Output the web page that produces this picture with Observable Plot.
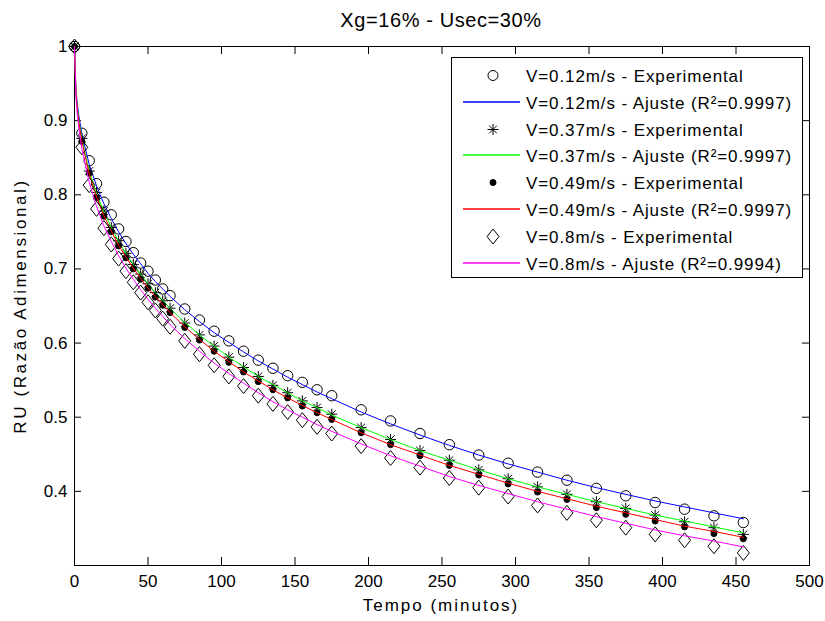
<!DOCTYPE html>
<html>
<head>
<meta charset="utf-8">
<script src="https://cdn.jsdelivr.net/npm/d3@7"></script>
<script src="https://cdn.jsdelivr.net/npm/@observablehq/plot@0.6"></script>
<style>
  html, body { margin: 0; padding: 0; background: #fff; }
  #wrap { position: relative; width: 825px; height: 621px; overflow: hidden; }
  #overlay { position: absolute; left: 0; top: 0; pointer-events: none; }
  svg text { font-family: "Liberation Sans", Arial, sans-serif; }
</style>
</head>
<body>
<div id="wrap"></div>
<script>
// ---------- data ----------
const time = [0,5,10,15,20,25,30,35,40,45,50,55,60,65,75,85,95,105,115,125,135,145,155,165,175,195,215,235,255,275,295,315,335,355,375,395,415,435,455];
const expV012 = [1.000,0.883,0.846,0.815,0.790,0.773,0.754,0.737,0.722,0.708,0.697,0.685,0.673,0.664,0.646,0.631,0.616,0.603,0.589,0.577,0.566,0.556,0.547,0.537,0.529,0.510,0.495,0.478,0.463,0.449,0.438,0.426,0.415,0.404,0.394,0.385,0.376,0.367,0.358];
const expV037 = [1.000,0.876,0.832,0.803,0.778,0.756,0.738,0.721,0.706,0.693,0.680,0.668,0.657,0.647,0.627,0.611,0.596,0.581,0.567,0.555,0.543,0.533,0.522,0.513,0.504,0.486,0.470,0.455,0.442,0.429,0.417,0.406,0.396,0.386,0.377,0.368,0.359,0.351,0.342];
const expV049 = [1.000,0.872,0.829,0.796,0.771,0.750,0.731,0.715,0.700,0.686,0.674,0.662,0.651,0.641,0.621,0.604,0.589,0.574,0.561,0.548,0.537,0.526,0.515,0.506,0.497,0.479,0.463,0.448,0.435,0.422,0.410,0.399,0.389,0.378,0.369,0.360,0.352,0.343,0.336];
const expV08  = [1.000,0.864,0.813,0.781,0.755,0.733,0.714,0.697,0.682,0.668,0.655,0.644,0.633,0.622,0.603,0.585,0.570,0.555,0.542,0.529,0.518,0.507,0.496,0.487,0.478,0.461,0.445,0.432,0.418,0.405,0.393,0.381,0.371,0.361,0.351,0.342,0.334,0.326,0.317];

const fitTime = [0,1,2,3,5,10,15,20,25,30,35,40,45,50,55,60,65,75,85,95,105,115,125,135,145,155,165,175,195,215,235,255,275,295,315,335,355,375,395,415,435,455];
const fitV012 = [1.000,0.942,0.921,0.906,0.882,0.841,0.812,0.788,0.768,0.750,0.734,0.720,0.707,0.694,0.683,0.673,0.663,0.645,0.629,0.614,0.601,0.588,0.576,0.565,0.554,0.544,0.534,0.525,0.507,0.491,0.476,0.462,0.449,0.437,0.426,0.415,0.405,0.396,0.387,0.379,0.371,0.363];
const fitV037 = [1.000,0.938,0.916,0.900,0.875,0.832,0.801,0.777,0.756,0.737,0.721,0.706,0.693,0.680,0.668,0.658,0.647,0.628,0.611,0.596,0.581,0.568,0.555,0.544,0.533,0.522,0.513,0.503,0.486,0.470,0.455,0.442,0.429,0.417,0.406,0.396,0.386,0.377,0.368,0.360,0.352,0.344];
const fitV049 = [1.000,0.937,0.914,0.897,0.872,0.828,0.797,0.772,0.751,0.732,0.716,0.701,0.687,0.674,0.663,0.652,0.641,0.622,0.605,0.589,0.575,0.561,0.549,0.537,0.526,0.516,0.506,0.497,0.479,0.463,0.449,0.435,0.423,0.411,0.400,0.390,0.380,0.371,0.362,0.353,0.346,0.338];
const fitV08  = [1.000,0.930,0.906,0.889,0.862,0.817,0.784,0.758,0.737,0.718,0.701,0.686,0.672,0.659,0.647,0.636,0.625,0.606,0.589,0.573,0.559,0.546,0.533,0.521,0.510,0.500,0.490,0.481,0.464,0.448,0.434,0.420,0.408,0.397,0.386,0.376,0.366,0.357,0.348,0.340,0.333,0.325];

const xTicks = [0,50,100,150,200,250,300,350,400,450,500];
const yTicks = [0.4,0.5,0.6,0.7,0.8,0.9,1];
const yTickLabels = ["0.4","0.5","0.6","0.7","0.8","0.9","1"];

const titleText = "Xg=16% - Usec=30%";
const xLabel = "Tempo (minutos)";
const yLabel = "RU (Razão Adimensional)";
const legendLabels = [
  "V=0.12m/s - Experimental",
  "V=0.12m/s - Ajuste (R²=0.9997)",
  "V=0.37m/s - Experimental",
  "V=0.37m/s - Ajuste (R²=0.9997)",
  "V=0.49m/s - Experimental",
  "V=0.49m/s - Ajuste (R²=0.9997)",
  "V=0.8m/s - Experimental",
  "V=0.8m/s - Ajuste (R²=0.9994)"
];
const colors = ["#0000ff", "#00ff00", "#ff0000", "#ff00ff"];

// ---------- helpers ----------
const rows = (xs, ys) => xs.map((x, i) => ({x, y: ys[i]}));
const asterisk8 = {
  draw(ctx, size) {
    const r = Math.sqrt(size / Math.PI), d = r * 0.7071;
    ctx.moveTo(-r, 0); ctx.lineTo(r, 0);
    ctx.moveTo(0, -r); ctx.lineTo(0, r);
    ctx.moveTo(-d, -d); ctx.lineTo(d, d);
    ctx.moveTo(-d, d); ctx.lineTo(d, -d);
  }
};
const diamondM = {
  draw(ctx, size) {
    const h = Math.sqrt(size / Math.PI), w = h * 0.8;
    ctx.moveTo(0, -h); ctx.lineTo(w, 0); ctx.lineTo(0, h); ctx.lineTo(-w, 0); ctx.closePath();
  }
};

const W = 825, H = 621, mL = 74, mR = 16, mT = 46, mB = 56;
const plotW = W - mL - mR, plotH = H - mT - mB;

const chart = Plot.plot({
  width: W, height: H,
  marginLeft: mL, marginRight: mR, marginTop: mT, marginBottom: mB,
  x: {domain: [0, 500]},
  y: {domain: [0.3, 1]},
  style: {fontFamily: "'Liberation Sans', Arial, sans-serif", fontSize: "17px", color: "black", background: "white"},
  marks: [
    Plot.axisX({ticks: xTicks, tickSize: 0, tickPadding: 9, label: null, fontSize: 17}),
    Plot.axisY({ticks: yTicks, tickSize: 0, tickPadding: 7, label: null, fontSize: 17,
      tickFormat: d => yTickLabels[yTicks.indexOf(d)]}),
    Plot.tickX(xTicks, {x: d => d, stroke: "black", insetTop: plotH - 8}),
    Plot.tickX(xTicks, {x: d => d, stroke: "black", insetBottom: plotH - 8}),
    Plot.tickY(yTicks, {y: d => d, stroke: "black", insetRight: plotW - 7}),
    Plot.tickY(yTicks, {y: d => d, stroke: "black", insetLeft: plotW - 7}),
    Plot.frame({stroke: "black", strokeWidth: 1}),
    Plot.dot(rows(time, expV012), {x: "x", y: "y", r: 5.2, stroke: "black", fill: "none", strokeWidth: 1}),
    Plot.line(rows(fitTime, fitV012), {x: "x", y: "y", stroke: colors[0], strokeWidth: 1}),
    Plot.dot(rows(time, expV037), {x: "x", y: "y", r: 5.5, symbol: asterisk8, stroke: "black", fill: "none", strokeWidth: 1}),
    Plot.line(rows(fitTime, fitV037), {x: "x", y: "y", stroke: colors[1], strokeWidth: 1}),
    Plot.dot(rows(time, expV049), {x: "x", y: "y", r: 3, fill: "black", stroke: "black", strokeWidth: 1}),
    Plot.line(rows(fitTime, fitV049), {x: "x", y: "y", stroke: colors[2], strokeWidth: 1}),
    Plot.dot(rows(time, expV08), {x: "x", y: "y", r: 7.5, symbol: diamondM, stroke: "black", fill: "none", strokeWidth: 1}),
    Plot.line(rows(fitTime, fitV08), {x: "x", y: "y", stroke: colors[3], strokeWidth: 1})
  ]
});
const wrap = document.getElementById("wrap");
wrap.appendChild(chart);

// ---------- overlay: title, axis labels, legend ----------
const ns = "http://www.w3.org/2000/svg";
const ov = document.createElementNS(ns, "svg");
ov.setAttribute("id", "overlay");
ov.setAttribute("width", W); ov.setAttribute("height", H);
wrap.appendChild(ov);
function el(tag, attrs, parent = ov) {
  const e = document.createElementNS(ns, tag);
  for (const k in attrs) e.setAttribute(k, attrs[k]);
  parent.appendChild(e);
  return e;
}
function txt(s, attrs) { const t = el("text", attrs); t.textContent = s; return t; }

txt(titleText, {x: 441, y: 27, "text-anchor": "middle", "font-size": 20, "letter-spacing": "0.6px", fill: "black"});
txt(xLabel, {x: 441, y: 611, "text-anchor": "middle", "font-size": 17, "letter-spacing": "2px", fill: "black"});
txt(yLabel, {transform: "translate(26,306) rotate(-90)", "text-anchor": "middle", "font-size": 17, "letter-spacing": "2.6px", fill: "black"});

// legend
el("rect", {x: 451.5, y: 57.5, width: 351, height: 220, fill: "white", stroke: "black", "stroke-width": 1});
const legY0 = 75, legStep = 26.8, symX = 493;
const symbols = ["circle", null, "asterisk", null, "dot", null, "diamond", null];
legendLabels.forEach((lab, i) => {
  const cy = Math.round(legY0 + i * legStep) + 0.5;
  if (i % 2 === 1) {
    el("line", {x1: 463, x2: 520, y1: cy - 0.5, y2: cy - 0.5, stroke: colors[(i - 1) / 2], "stroke-width": 1.4});
  } else {
    const s = symbols[i];
    if (s === "circle") el("circle", {cx: symX, cy, r: 5, fill: "none", stroke: "black"});
    if (s === "asterisk") {
      const r = 5.5, d = r * 0.7071;
      el("path", {d: `M${symX - r},${cy}H${symX + r}M${symX},${cy - r}V${cy + r}M${symX - d},${cy - d}L${symX + d},${cy + d}M${symX - d},${cy + d}L${symX + d},${cy - d}`, stroke: "black", fill: "none"});
    }
    if (s === "dot") el("circle", {cx: symX, cy, r: 3, fill: "black", stroke: "black"});
    if (s === "diamond") el("path", {d: `M${symX},${cy - 7.5}L${symX + 6},${cy}L${symX},${cy + 7.5}L${symX - 6},${cy}Z`, fill: "none", stroke: "black"});
  }
  txt(lab, {x: 526, y: cy + 6, "font-size": 17, "letter-spacing": "0.9px", fill: "black"});
});
</script>
</body>
</html>
